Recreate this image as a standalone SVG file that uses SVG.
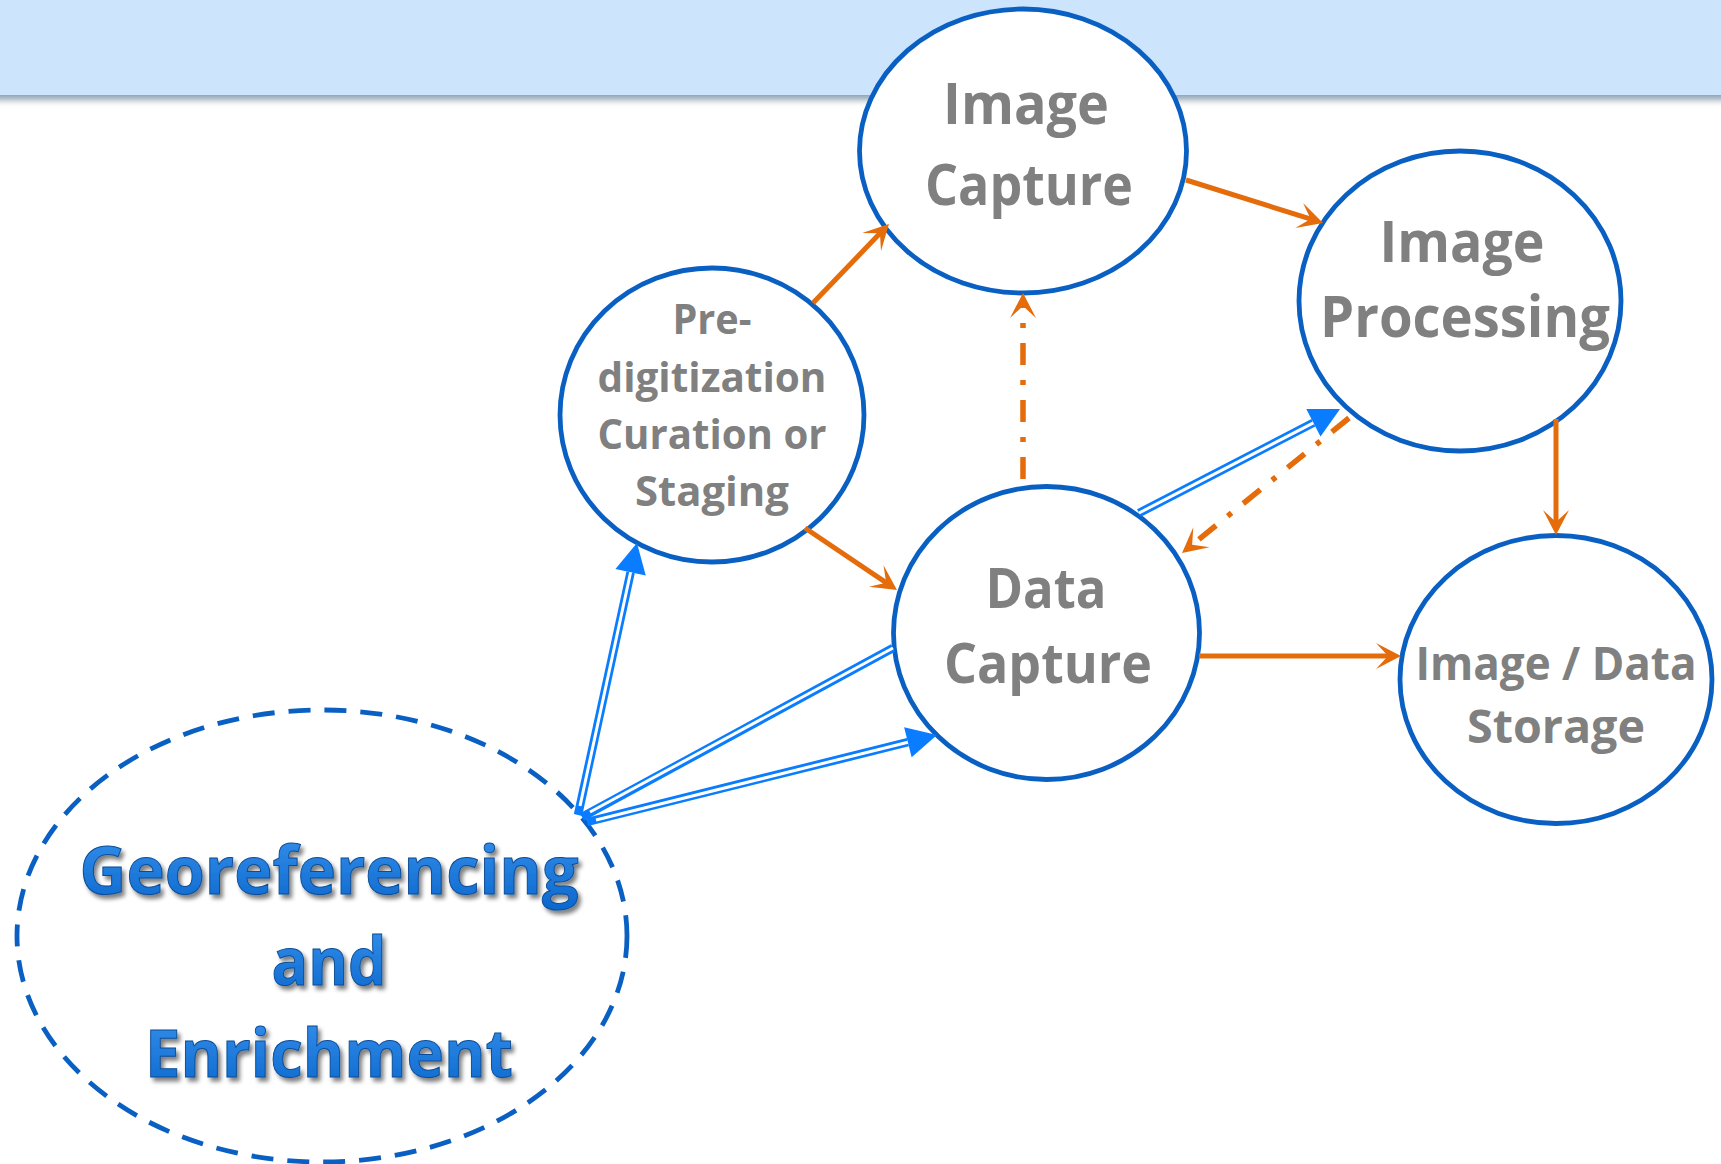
<svg xmlns="http://www.w3.org/2000/svg" width="1721" height="1164" viewBox="0 0 1721 1164">
<style>
.node{fill:#ffffff;stroke:#0a60c2;stroke-width:4.8}
.geo{fill:#ffffff;stroke:#0a60c2;stroke-width:4.8;stroke-dasharray:22 14}
.lbl{font-family:"Open Sans","Noto Sans",sans-serif;font-weight:bold;fill:#808080;text-anchor:middle}
.geotxt{font-family:"Open Sans","Noto Sans",sans-serif;font-weight:bold;fill:url(#geoGrad);stroke:#0a4c96;stroke-width:1;text-anchor:middle}
.orange{fill:none;stroke:#e46c0a;stroke-width:5}
.dashdot{fill:none;stroke:#e46c0a;stroke-width:5.5;stroke-dasharray:22 15 5 15}
.blueOuter{fill:none;stroke:#0a7cff;stroke-width:8.5}
.blueInner{fill:none;stroke:#ffffff;stroke-width:3}
</style>
<defs>
<linearGradient id="bannerShadow" x1="0" y1="0" x2="0" y2="1">
<stop offset="0" stop-color="#8fa6bd"/>
<stop offset="0.3" stop-color="#b9c3cc"/>
<stop offset="1" stop-color="#ffffff" stop-opacity="0"/>
</linearGradient>
<linearGradient id="geoGrad" x1="0" y1="0" x2="0" y2="1">
<stop offset="0" stop-color="#3a94ee"/>
<stop offset="1" stop-color="#0a66cc"/>
</linearGradient>
<filter id="shadow" x="-10%" y="-20%" width="120%" height="150%">
<feGaussianBlur in="SourceAlpha" stdDeviation="2"/>
<feOffset dx="3" dy="4" result="b"/>
<feComponentTransfer><feFuncA type="linear" slope="0.5"/></feComponentTransfer>
<feMerge><feMergeNode/><feMergeNode in="SourceGraphic"/></feMerge>
</filter>
<marker id="arrO" markerUnits="userSpaceOnUse" markerWidth="60" markerHeight="60" refX="0" refY="0" orient="auto" overflow="visible">
<path d="M6,0 L-19,-13 L-7,0 L-19,13 Z" fill="#e46c0a"/>
</marker>
<marker id="arrB" markerUnits="userSpaceOnUse" markerWidth="60" markerHeight="60" refX="0" refY="0" orient="auto" overflow="visible">
<path d="M0,-15.5 L30,0 L0,15.5 Z" fill="#0a7cff"/>
</marker>
</defs>
<rect x="0" y="0" width="1721" height="95" fill="#cce5fc"/>
<rect x="0" y="95" width="1721" height="13" fill="url(#bannerShadow)"/>

<g id="node-georef">
<ellipse class="geo" cx="322" cy="936" rx="305" ry="226"/>
<g filter="url(#shadow)">
<text class="geotxt" x="329" y="894" font-size="67" textLength="499" lengthAdjust="spacingAndGlyphs">Georeferencing</text>
<text class="geotxt" x="329" y="985" font-size="67" textLength="115" lengthAdjust="spacingAndGlyphs">and</text>
<text class="geotxt" x="329" y="1077" font-size="67" textLength="368" lengthAdjust="spacingAndGlyphs">Enrichment</text>
</g>
</g>

<g id="node-image-capture">
<ellipse class="node" cx="1023" cy="151" rx="163.5" ry="142"/>
<text class="lbl" x="1026" y="124" font-size="57" textLength="166" lengthAdjust="spacingAndGlyphs">Image</text>
<text class="lbl" x="1029" y="205" font-size="57" textLength="208" lengthAdjust="spacingAndGlyphs">Capture</text>
</g>

<g id="node-image-processing">
<ellipse class="node" cx="1460" cy="301" rx="161" ry="150"/>
<text class="lbl" x="1462" y="262" font-size="57" textLength="165" lengthAdjust="spacingAndGlyphs">Image</text>
<text class="lbl" x="1465" y="337" font-size="57" textLength="290" lengthAdjust="spacingAndGlyphs">Processing</text>
</g>

<g id="node-predigitization">
<ellipse class="node" cx="712" cy="415" rx="152" ry="147"/>
<text class="lbl" x="712" y="334" font-size="42" textLength="79" lengthAdjust="spacingAndGlyphs">Pre-</text>
<text class="lbl" x="712" y="392" font-size="42" textLength="229" lengthAdjust="spacingAndGlyphs">digitization</text>
<text class="lbl" x="712" y="449" font-size="42" textLength="229" lengthAdjust="spacingAndGlyphs">Curation or</text>
<text class="lbl" x="712" y="506" font-size="42" textLength="154" lengthAdjust="spacingAndGlyphs">Staging</text>
</g>

<g id="node-data-capture">
<ellipse class="node" cx="1046.5" cy="633" rx="153" ry="146.5"/>
<text class="lbl" x="1046" y="608" font-size="55" textLength="121" lengthAdjust="spacingAndGlyphs">Data</text>
<text class="lbl" x="1048" y="683" font-size="55" textLength="208" lengthAdjust="spacingAndGlyphs">Capture</text>
</g>

<g id="node-storage">
<ellipse class="node" cx="1556" cy="679.5" rx="156" ry="144"/>
<text class="lbl" x="1556" y="680" font-size="46" textLength="281" lengthAdjust="spacingAndGlyphs">Image / Data</text>
<text class="lbl" x="1556" y="743" font-size="46" textLength="178" lengthAdjust="spacingAndGlyphs">Storage</text>
</g>

<g id="connectors">
<path class="orange" d="M1186,180 L1317.3,221.2" marker-end="url(#arrO)"/>
<path class="orange" d="M813,303 L884.8,228.3" marker-end="url(#arrO)"/>
<path class="orange" d="M805,528 L892,586.6" marker-end="url(#arrO)"/>
<path class="orange" d="M1556,419 L1556,529" marker-end="url(#arrO)"/>
<path class="orange" d="M1199,656 L1395,656" marker-end="url(#arrO)"/>
<path class="dashdot" d="M1023,479 L1023,299" marker-end="url(#arrO)"/>
<path class="dashdot" d="M1349,418 L1186.7,549.2" marker-end="url(#arrO)"/>

<path class="blueOuter" d="M1139,513 L1313.4,422.8" marker-end="url(#arrB)"/>
<path class="blueOuter" d="M578,815 L630.6,572.3" marker-end="url(#arrB)"/>
<path class="blueOuter" d="M582,817 L893,648"/>
<path class="blueOuter" d="M587,822 L907.9,742.2" marker-end="url(#arrB)"/>
<path class="blueInner" d="M1139,513 L1313.4,422.8"/>
<path class="blueInner" d="M580,806 L630.6,572.3"/>
<path class="blueInner" d="M590,812 L893,648"/>
<path class="blueInner" d="M596,820 L907.9,742.2"/>
</g>
</svg>
